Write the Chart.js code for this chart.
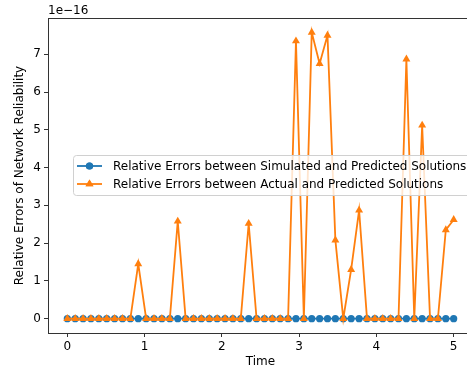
<!DOCTYPE html>
<html>
<head>
<meta charset="utf-8">
<script src="https://cdn.jsdelivr.net/npm/chart.js@4.4.1/dist/chart.umd.min.js"></script>
<style>
  html, body { margin: 0; padding: 0; background: #fff; overflow: hidden; }
  #wrap { width: 467px; height: 376px; overflow: hidden; position: relative; }
  canvas { display: block; }
</style>
</head>
<body>
<div id="wrap"><canvas id="chart" width="480" height="376"></canvas></div>
<script>
// Time samples (x axis)
const timeValues = [
  0.000, 0.102, 0.204, 0.306, 0.408, 0.510, 0.612, 0.714, 0.816, 0.918,
  1.020, 1.122, 1.224, 1.327, 1.429, 1.531, 1.633, 1.735, 1.837, 1.939,
  2.041, 2.143, 2.245, 2.347, 2.449, 2.551, 2.653, 2.755, 2.857, 2.959,
  3.061, 3.163, 3.265, 3.367, 3.469, 3.571, 3.673, 3.776, 3.878, 3.980,
  4.082, 4.184, 4.286, 4.388, 4.490, 4.592, 4.694, 4.796, 4.898, 5.000
];

// Relative errors, in units of 1e-16
const simulatedVsPredicted = [
  0, 0, 0, 0, 0, 0, 0, 0, 0, 0,
  0, 0, 0, 0, 0, 0, 0, 0, 0, 0,
  0, 0, 0, 0, 0, 0, 0, 0, 0, 0,
  0, 0, 0, 0, 0, 0, 0, 0, 0, 0,
  0, 0, 0, 0, 0, 0, 0, 0, 0, 0
];
const actualVsPredicted = [
  0, 0, 0, 0, 0, 0, 0, 0, 0, 1.45,
  0, 0, 0, 0, 2.58, 0, 0, 0, 0, 0,
  0, 0, 0, 2.52, 0, 0, 0, 0, 0, 7.35,
  0, 7.58, 6.75, 7.50, 2.08, 0, 1.30, 2.87, 0, 0,
  0, 0, 0, 6.87, 0, 5.12, 0, 0, 2.35, 2.62
];

const seriesLabels = [
  'Relative Errors between Simulated and Predicted Solutions',
  'Relative Errors between Actual and Predicted Solutions'
];
const yTicks = [0, 1, 2, 3, 4, 5, 6, 7];
const xTicks = [0, 1, 2, 3, 4, 5];
const offsetLabel = '1e\u221216';

const BLUE = '#1f77b4';
const ORANGE = '#ff7f0e';
const FONT = 'DejaVu Sans';
const FONT_SIZE = 12;

function toPoints(values) {
  return values.map((v, i) => ({ x: timeValues[i], y: v }));
}

// Frame, offset text and in-plot legend like matplotlib
const decorations = {
  id: 'decorations',
  afterDraw(chart) {
    const ctx = chart.ctx;
    const a = chart.chartArea;
    ctx.save();
    ctx.strokeStyle = '#333';
    ctx.lineWidth = 1;
    ctx.strokeRect(Math.round(a.left) + 0.5, Math.round(a.top) + 0.5,
      Math.round(a.right - a.left), Math.round(a.bottom - a.top));

    ctx.fillStyle = '#000';
    ctx.font = FONT_SIZE + 'px ' + FONT;
    ctx.textAlign = 'left';
    ctx.textBaseline = 'alphabetic';
    ctx.fillText(offsetLabel, a.left, a.top - 4);

    // legend box
    const lx = 73.5, ly = 155.5, lw = 400, lh = 40;
    ctx.beginPath();
    ctx.roundRect(lx, ly, lw, lh, 3);
    ctx.fillStyle = 'rgba(255,255,255,0.8)';
    ctx.fill();
    ctx.strokeStyle = '#d0d0d0';
    ctx.stroke();

    const rows = [
      { color: BLUE, style: 'circle', r: 3.6, y: 166 },
      { color: ORANGE, style: 'triangle', r: 4.6, y: 184 }
    ];
    rows.forEach((row, i) => {
      ctx.strokeStyle = row.color;
      ctx.lineWidth = 1.8;
      ctx.beginPath();
      ctx.moveTo(77, row.y);
      ctx.lineTo(102, row.y);
      ctx.stroke();
      ctx.fillStyle = row.color;
      Chart.helpers.drawPoint(ctx, { pointStyle: row.style, radius: row.r, borderWidth: 0 }, 89.5, row.y);
      ctx.fill();
      ctx.fillStyle = '#000';
      ctx.font = FONT_SIZE + 'px ' + FONT;
      ctx.textBaseline = 'middle';
      ctx.fillText(seriesLabels[i], 113, row.y + 0.5);
    });
    ctx.restore();
  }
};

const ctx = document.getElementById('chart').getContext('2d');
new Chart(ctx, {
  type: 'line',
  data: {
    datasets: [{
      label: seriesLabels[0],
      data: toPoints(simulatedVsPredicted),
      borderColor: BLUE,
      backgroundColor: BLUE,
      borderWidth: 1.8,
      pointStyle: 'circle',
      pointRadius: 3.6,
      pointBorderWidth: 0,
      tension: 0,
      order: 1
    }, {
      label: seriesLabels[1],
      data: toPoints(actualVsPredicted),
      borderColor: ORANGE,
      backgroundColor: ORANGE,
      borderWidth: 1.8,
      pointStyle: 'triangle',
      pointRadius: 4.6,
      pointBorderWidth: 0,
      tension: 0,
      order: 0
    }]
  },
  options: {
    responsive: false,
    animation: false,
    layout: { padding: { top: 18, right: 7, left: 0, bottom: 0 } },
    plugins: {
      legend: { display: false },
      tooltip: { enabled: false }
    },
    scales: {
      x: {
        type: 'linear',
        min: -0.25,
        max: 5.25,
        afterBuildTicks: (s) => { s.ticks = xTicks.map(v => ({ value: v })); },
        afterFit: (s) => { s.height = 43; s.paddingRight = 0; s.paddingLeft = 0; },
        grid: { drawOnChartArea: false, drawTicks: true, tickLength: 4, color: '#333' },
        border: { display: false },
        ticks: { color: '#000', font: { family: FONT, size: FONT_SIZE }, padding: 3, maxRotation: 0 },
        title: { display: true, text: 'Time', color: '#000', font: { family: FONT, size: FONT_SIZE }, padding: { top: 2, bottom: 7 } }
      },
      y: {
        type: 'linear',
        min: -0.379,
        max: 7.96,
        afterBuildTicks: (s) => { s.ticks = yTicks.map(v => ({ value: v })); },
        afterFit: (s) => { s.width = 48; },
        grid: { drawOnChartArea: false, drawTicks: true, tickLength: 4, color: '#333' },
        border: { display: false },
        ticks: { color: '#000', font: { family: FONT, size: FONT_SIZE }, padding: 3 },
        title: { display: true, text: 'Relative Errors of Network Reliability', color: '#000', font: { family: FONT, size: FONT_SIZE }, padding: { top: 13, bottom: 0 } }
      }
    }
  },
  plugins: [decorations]
});
</script>
</body>
</html>
